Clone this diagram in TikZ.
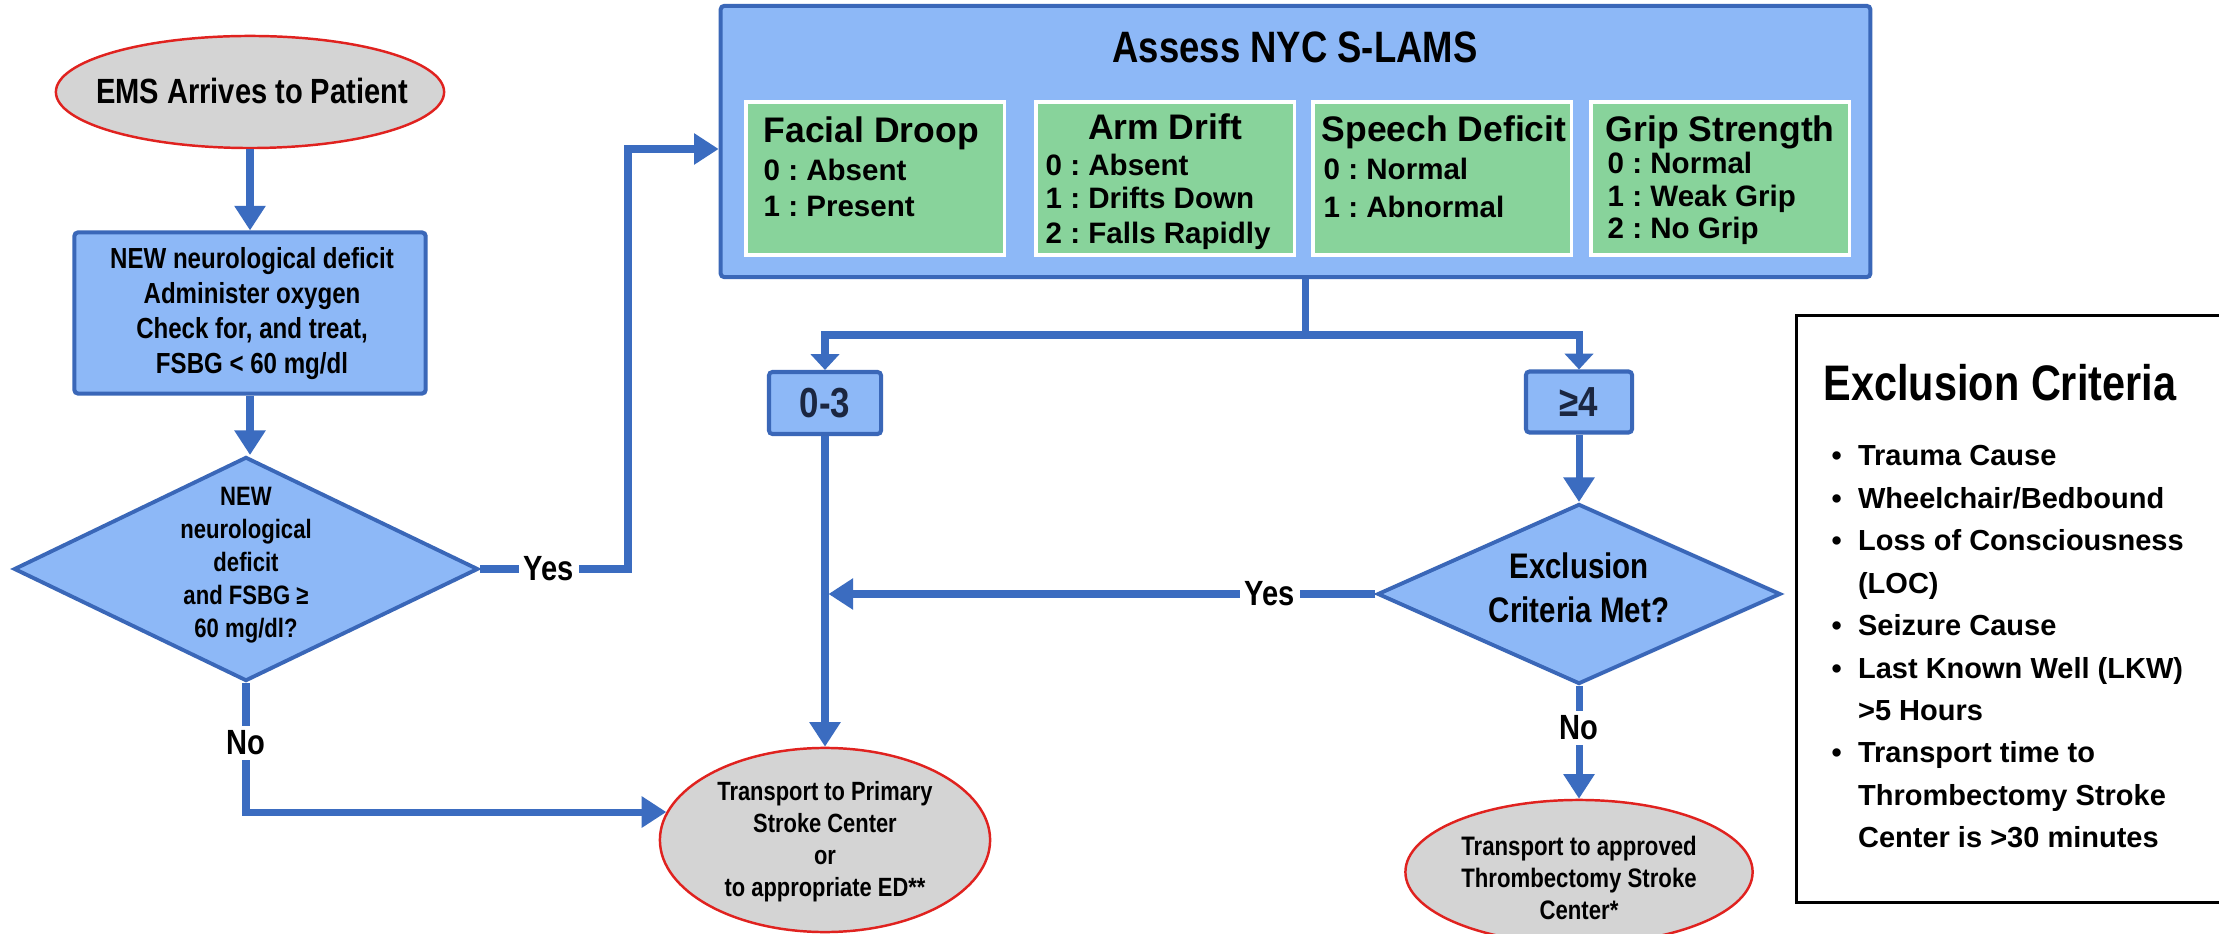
\documentclass[tikz,border=0pt]{standalone}
\usepackage{fontspec}
\setmainfont{Liberation Sans}
\newfontfamily\nar[FakeStretch=0.83]{Liberation Sans}
\usetikzlibrary{shapes.geometric,arrows.meta}
\definecolor{lblue}{HTML}{3B6CC0}
\definecolor{fblue}{HTML}{8DB8F7}
\definecolor{bblue}{HTML}{3A67B8}
\definecolor{fgreen}{HTML}{88D39B}
\definecolor{fgray}{HTML}{D4D4D4}
\definecolor{ered}{HTML}{E0221F}
\definecolor{navy}{HTML}{1B2640}
\newcommand\fsz[2]{\fontsize{#1pt}{#2pt}\selectfont}
\frenchspacing
\begin{document}
\begin{tikzpicture}[x=0.01cm,y=0.01cm,
  line/.style={draw=lblue,line width=2pt},
  conn/.style={line,-{Triangle[length=7pt,width=8.5pt]}},
  connsm/.style={line,-{Triangle[length=4.5pt,width=8pt]}},
  bluebox/.style={draw=bblue,fill=fblue,line width=1.15pt,rounded corners=1pt,inner sep=0pt},
  greenbox/.style={draw=white,fill=fgreen,line width=0.9pt,inner sep=0pt,minimum width=2.58cm,minimum height=1.53cm},
  term/.style={ellipse,draw=ered,fill=fgray,line width=0.7pt,inner sep=0pt},
  dia/.style={diamond,draw=bblue,fill=fblue,line width=1.1pt,inner sep=0pt},
  lbl/.style={fill=white,inner sep=1.5pt,font=\nar\bfseries\fsz{9.96}{12}},
  txt/.style={inner sep=0pt,align=center,text=black},
  gtitle/.style={inner sep=0pt,font=\bfseries\fsz{10.1}{12}},
  gitem/.style={inner sep=0pt,anchor=base west,font=\bfseries\fsz{8.4}{10}},
  numbox/.style={bluebox,text=navy,font=\nar\bfseries\fsz{11.95}{14}},
]
\useasboundingbox (0,0) rectangle (2219,-934);
\fill[white] (0,0) rectangle (2219,-934);

% EMS arrives
\node[term,minimum width=3.88cm,minimum height=1.12cm] (ems) at (250,-92) {};
\node[txt,font=\nar\bfseries\fsz{9.96}{12}] (emst) at (252,-91) {EMS Arrives to Patient};

% NEW box
\node[bluebox,minimum width=3.51cm,minimum height=1.61cm] (nb) at (250,-313) {};
\node[txt,font=\nar\bfseries\fsz{8.25}{9.96}] (nbt) at (252,-314) {NEW neurological deficit\\Administer oxygen\\Check for, and treat,\\FSBG < 60 mg/dl};

% Diamond 1
\node[dia,minimum width=4.64cm,minimum height=2.24cm] (d1) at (246,-569) {};
\node[txt,font=\nar\bfseries\fsz{7.57}{9.4}] (d1t) at (246,-565) {NEW\\neurological\\deficit\\and FSBG ≥\\60 mg/dl?};

% S-LAMS
\node[bluebox,minimum width=11.49cm,minimum height=2.71cm] (sl) at (1295.5,-141.5) {};
\node[txt,font=\nar\bfseries\fsz{12.5}{15}] (slt) at (1295,-47) {Assess NYC S-LAMS};
\node[greenbox] (g1) at (875,-178.5) {};
\node[greenbox] (g2) at (1165,-178.5) {};
\node[greenbox] (g3) at (1442,-178.5) {};
\node[greenbox] (g4) at (1720,-178.5) {};
\node[gtitle,anchor=base west] (g1h) at (763,-143) {Facial Droop};
\node[gtitle,anchor=base] (g2h) at (1165,-140) {Arm Drift};
\node[gtitle,anchor=base west] (g3h) at (1321,-142) {Speech Deficit};
\node[gtitle,anchor=base west] (g4h) at (1605,-142) {Grip Strength};
\node[gitem] (g1a) at (763,-181) {0 : Absent};
\node[gitem] (g1b) at (763,-217) {1 : Present};
\node[gitem] (g2a) at (1045,-176) {0 : Absent};
\node[gitem] (g2b) at (1045,-209) {1 : Drifts Down};
\node[gitem] (g2c) at (1045,-244) {2 : Falls Rapidly};
\node[gitem] (g3a) at (1323,-180) {0 : Normal};
\node[gitem] (g3b) at (1323,-218) {1 : Abnormal};
\node[gitem] (g4a) at (1607,-174) {0 : Normal};
\node[gitem] (g4b) at (1607,-207) {1 : Weak Grip};
\node[gitem] (g4c) at (1607,-239) {2 : No Grip};

% score boxes
\coordinate (sp) at (1305,-335);
\node[numbox,minimum width=1.12cm,minimum height=0.62cm] (b03) at (825,-403) {0-3};
\node[numbox,minimum width=1.06cm,minimum height=0.61cm] (b4) at (1579,-402) {≥4};

% Diamond 2
\node[dia,minimum width=4.03cm,minimum height=1.80cm] (d2) at (1579,-594) {};
\node[txt,font=\nar\bfseries\fsz{10.1}{12.5}] (d2t) at (1579,-588) {Exclusion\\Criteria Met?};

% End terminals
\node[term,minimum width=3.30cm,minimum height=1.84cm] (prim) at (825,-840) {};
\node[txt,font=\nar\bfseries\fsz{7.5}{9.1}] (primt) at (825,-842) {Transport to Primary\\Stroke Center\\or\\to appropriate ED**};
\node[term,minimum width=3.47cm,minimum height=1.44cm] (th) at (1579,-872) {};
\node[txt,font=\nar\bfseries\fsz{7.6}{9.1}] (tht) at (1579,-878) {Transport to approved\\Thrombectomy Stroke\\Center*};

% Exclusion criteria box
\node[draw=black,line width=0.9pt,minimum width=4.33cm,minimum height=5.86cm,inner sep=0pt] (ex) at (2013.5,-609) {};
\node[anchor=west,inner sep=0pt,font=\nar\bfseries\fsz{14.2}{17}] (ext) at (1823,-383) {Exclusion Criteria};
\node[anchor=base west,inner sep=0pt,font=\bfseries\fsz{8.25}{12.06}] (exl) at (1831,-466)
 {\begin{tabular}[t]{@{}l@{\hspace{4.6pt}}l@{}}
  •&Trauma Cause\\
  •&Wheelchair/Bedbound\\
  •&Loss of Consciousness\\
   &(LOC)\\
  •&Seizure Cause\\
  •&Last Known Well (LKW)\\
   &>5 Hours\\
  •&Transport time to\\
   &Thrombectomy Stroke\\
   &Center is >30 minutes
 \end{tabular}};

% Connectors
\draw[conn] (ems.south) -- (nb.north);
\draw[conn] (nb.south) -- (nb.south |- d1.north);
\coordinate (c1) at (628,-569);
\coordinate (c2) at (628,-149);
\draw[conn] (d1.east) -- (c1) -- (c2) -- (c2 -| sl.west);
\node[lbl] (yes1) at (549,-569) {Yes};
\draw[conn] (d1.south) |- (prim.170);
\node[lbl] (no1) at (246,-743) {No};
\draw[line] (sp |- sl.south) -- (sp);
\draw[connsm] (sp) -| (b03.north);
\draw[connsm] (sp) -| (b4.north);
\draw[conn] (b03.south) -- (prim.north);
\draw[conn] (b4.south) -- (d2.north);
\coordinate (j1) at ([xshift=0.035cm]b03.south |- d2.west);
\draw[conn] (d2.west) -- (j1);
\node[lbl] (yes2) at (1270,-594) {Yes};
\draw[conn] (d2.south) -- (th.north);
\node[lbl] (no2) at (1579,-728) {No};
\end{tikzpicture}
\end{document}
